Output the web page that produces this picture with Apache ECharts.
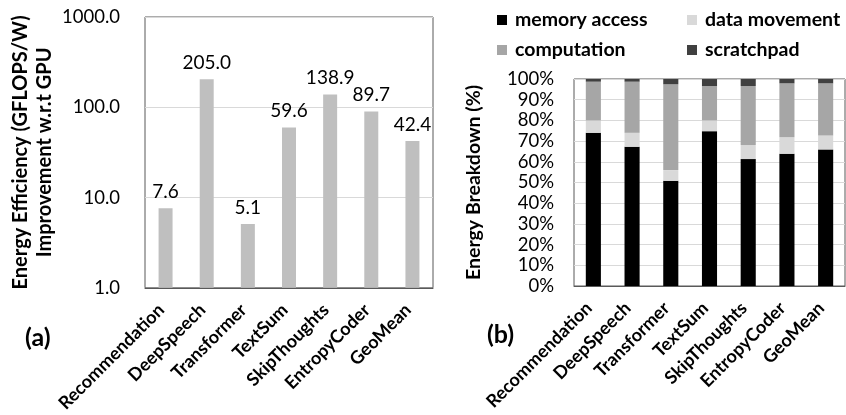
<!DOCTYPE html>
<html>
<head>
<meta charset="utf-8">
<script src="https://cdn.jsdelivr.net/npm/echarts@6/dist/echarts.min.js"></script>
<style>
  html, body { margin: 0; padding: 0; background: #fff; }
  #chart { width: 846px; height: 415px; }
</style>
</head>
<body>
<div id="chart"></div>
<script>
// Workloads shown on both panels
const categories = ['Recommendation', 'DeepSpeech', 'Transformer', 'TextSum', 'SkipThoughts', 'EntropyCoder', 'GeoMean'];

// (a) energy efficiency improvement over GPU (log scale)
const efficiency = [7.6, 205.0, 5.1, 59.6, 138.9, 89.7, 42.4];
const efficiencyTicks = [1, 10, 100, 1000];

// (b) energy breakdown, percent of total
const memoryAccess = [74.0, 67.3, 50.8, 74.8, 61.3, 63.9, 66.0];
const dataMovement = [6.0, 6.7, 5.2, 5.2, 6.8, 8.0, 6.7];
const computation  = [18.7, 24.7, 41.4, 16.6, 28.5, 26.0, 25.2];
const scratchpad   = [1.3, 1.3, 2.6, 3.4, 3.4, 2.1, 2.1];

const FONT = 'Lato, "Open Sans", sans-serif';
const borderColor = '#595959';
const gridColor = '#d9d9d9';

const chart = echarts.init(document.getElementById('chart'), null, { renderer: 'canvas' });

const catLabel = {
  interval: 0, rotate: 45, margin: 15, padding: [0, 6, 0, 0],
  fontFamily: FONT, fontSize: 18, fontWeight: 'bold', color: '#000'
};

const legendText = { fontFamily: FONT, fontSize: 19.5, fontWeight: 'bold', color: '#000', lineHeight: 20, padding: [0, 0, 0, 3] };

const option = {
  animation: false,
  backgroundColor: '#fff',
  textStyle: { fontFamily: FONT },
  grid: [
    { left: 145, top: 17, width: 288, height: 274, show: true, borderColor: borderColor, borderWidth: 1, containLabel: false },
    { left: 574, top: 79, width: 271, height: 207, show: true, borderColor: borderColor, borderWidth: 1, containLabel: false }
  ],
  legend: [
    {
      orient: 'vertical', left: 492, top: 5, itemWidth: 10, itemHeight: 10, itemGap: 10,
      icon: 'rect', selectedMode: false, textStyle: legendText,
      data: ['memory access', 'computation']
    },
    {
      orient: 'vertical', left: 682, top: 5, itemWidth: 10, itemHeight: 10, itemGap: 10,
      icon: 'rect', selectedMode: false, textStyle: legendText,
      data: ['data movement', 'scratchpad']
    }
  ],
  title: [
    { text: '(a)', left: 20, top: 320, textStyle: { fontFamily: FONT, fontSize: 25, fontWeight: 'bold', color: '#000' } },
    { text: '(b)', left: 482, top: 317, textStyle: { fontFamily: FONT, fontSize: 25, fontWeight: 'bold', color: '#000' } }
  ],
  xAxis: [
    {
      type: 'category', gridIndex: 0, data: categories,
      axisLine: { show: true, lineStyle: { color: borderColor } },
      axisTick: { show: false },
      axisLabel: catLabel
    },
    {
      type: 'category', gridIndex: 1, data: categories,
      axisLine: { show: true, lineStyle: { color: borderColor } },
      axisTick: { show: false },
      axisLabel: catLabel
    }
  ],
  yAxis: [
    {
      type: 'log', gridIndex: 0, logBase: 10,
      min: efficiencyTicks[0], max: efficiencyTicks[efficiencyTicks.length - 1],
      name: 'Energy Efficiency (GFLOPS/W)\nImprovement w.r.t GPU',
      nameLocation: 'middle', nameGap: 88,
      nameTextStyle: { fontFamily: FONT, fontSize: 20, fontWeight: 'bold', color: '#000', lineHeight: 24 },
      axisLine: { show: false }, axisTick: { show: false },
      axisLabel: { margin: 25, fontFamily: FONT, fontSize: 18.5, color: '#000', formatter: v => Number(v).toFixed(1) },
      splitLine: { show: true, lineStyle: { color: gridColor, width: 1 } }
    },
    {
      type: 'value', gridIndex: 1, min: 0, max: 100, interval: 10,
      name: 'Energy Breakdown (%)',
      nameLocation: 'middle', nameGap: 90,
      nameTextStyle: { fontFamily: FONT, fontSize: 19.5, fontWeight: 'bold', color: '#000' },
      axisLine: { show: false }, axisTick: { show: false },
      axisLabel: { margin: 20, fontFamily: FONT, fontSize: 18.5, color: '#000', formatter: '{value}%' },
      splitLine: { show: true, lineStyle: { color: gridColor, width: 1 } }
    }
  ],
  series: [
    {
      name: 'efficiency', type: 'bar', xAxisIndex: 0, yAxisIndex: 0,
      data: efficiency, barWidth: '34%',
      itemStyle: { color: '#bfbfbf' },
      label: {
        show: true, position: 'top', distance: 7,
        fontFamily: FONT, fontSize: 19, color: '#000',
        formatter: p => p.value.toFixed(1)
      }
    },
    { name: 'memory access', type: 'bar', stack: 'b', xAxisIndex: 1, yAxisIndex: 1, data: memoryAccess, barWidth: '39%', itemStyle: { color: '#000000' } },
    { name: 'data movement', type: 'bar', stack: 'b', xAxisIndex: 1, yAxisIndex: 1, data: dataMovement, barWidth: '39%', itemStyle: { color: '#d9d9d9' } },
    { name: 'computation', type: 'bar', stack: 'b', xAxisIndex: 1, yAxisIndex: 1, data: computation, barWidth: '39%', itemStyle: { color: '#a6a6a6' } },
    { name: 'scratchpad', type: 'bar', stack: 'b', xAxisIndex: 1, yAxisIndex: 1, data: scratchpad, barWidth: '39%', itemStyle: { color: '#404040' } }
  ]
};

chart.setOption(option);
</script>
</body>
</html>
